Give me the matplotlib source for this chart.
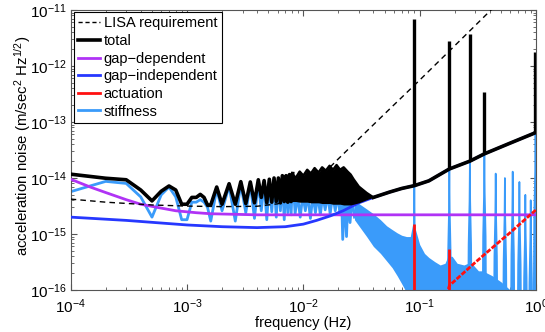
import matplotlib
matplotlib.use("Agg")
import matplotlib.pyplot as plt
from matplotlib.lines import Line2D
import numpy as np

plt.rcParams["font.family"] = ["Liberation Sans", "DejaVu Sans"]
plt.rcParams["mathtext.default"] = "regular"

# colours
C_TOTAL = "#000000"
C_GAPDEP = "#B033F5"
C_GAPIND = "#2638FF"
C_ACT = "#FF1010"
C_STIFF = "#3A9BFA"

# ---- LISA requirement (dashed)
lisa_f = [1e-4, 2e-4, 5e-4, 1e-3, 2e-3, 4e-3, 6e-3, 8e-3, 1e-2, 1.4e-2,
          2e-2, 3e-2, 5e-2, 0.1, 0.2, 0.4, 0.45]
lisa_v = [4.2e-15, 3.7e-15, 3.3e-15, 3.15e-15, 3.08e-15, 3.13e-15, 3.45e-15,
          4.3e-15, 5.8e-15, 1.05e-14, 2.2e-14, 5.0e-14, 1.4e-13, 5.6e-13,
          2.3e-12, 9.5e-12, 1.2e-11]

# ---- gap-dependent
gd_f = [1e-4, 1.5e-4, 2e-4, 3e-4, 4e-4, 6e-4, 8e-4, 1.2e-3, 1.6e-3, 2.5e-3,
        4e-3, 1.0]
gd_v = [9.5e-15, 6.8e-15, 5.5e-15, 4.1e-15, 3.4e-15, 2.9e-15, 2.6e-15,
        2.4e-15, 2.3e-15, 2.25e-15, 2.2e-15, 2.2e-15]

# ---- gap-independent
gi_f = [1e-4, 3e-4, 1e-3, 2e-3, 4e-3, 7e-3, 1e-2, 1.3e-2, 1.7e-2, 2.2e-2,
        3e-2, 4e-2, 5.5e-2, 7e-2, 9e-2, 0.12, 0.18, 0.27, 0.36, 0.6, 1.0]
gi_v = [2.0e-15, 1.75e-15, 1.45e-15, 1.35e-15, 1.3e-15, 1.35e-15, 1.5e-15,
        1.75e-15, 2.1e-15, 2.6e-15, 3.6e-15, 4.5e-15, 5.6e-15, 6.5e-15,
        7.3e-15, 8.9e-15, 1.45e-14, 2.0e-14, 2.7e-14, 4.2e-14, 6.5e-14]

# ---- total: low-frequency polyline
tot_f = [1e-4, 2e-4, 3e-4, 4e-4, 5e-4, 6e-4, 7e-4, 8e-4, 9e-4, 1e-3, 1.1e-3,
         1.2e-3, 1.3e-3, 1.4e-3, 1.5e-3, 1.6e-3, 1.8e-3, 2.0e-3, 2.3e-3,
         2.6e-3, 2.9e-3, 3.2e-3, 3.5e-3, 3.8e-3, 4.1e-3, 4.35e-3, 4.6e-3,
         4.85e-3, 5.1e-3, 5.35e-3, 5.6e-3, 5.85e-3, 6.1e-3, 6.35e-3, 6.6e-3,
         6.85e-3, 7.1e-3, 7.35e-3, 7.6e-3, 7.85e-3, 8.1e-3]
tot_v = [1.17e-14, 9.9e-15, 9.3e-15, 6.1e-15, 3.9e-15, 5.8e-15, 7.2e-15,
         6.1e-15, 3.4e-15, 3.4e-15, 4.5e-15, 4.5e-15, 5.1e-15, 4.5e-15,
         3.3e-15, 3.3e-15, 6.9e-15, 3.4e-15, 7.9e-15, 3.4e-15, 8.6e-15,
         3.5e-15, 8.5e-15, 3.6e-15, 9.3e-15, 4.5e-15, 9.0e-15, 3.6e-15,
         9.5e-15, 3.7e-15, 1.0e-14, 3.8e-15, 1.0e-14, 3.6e-15, 1.1e-14,
         3.8e-15, 1.1e-14, 3.7e-15, 1.15e-14, 3.8e-15, 1.2e-14]
# total: dense band (upper / lower envelope)
tb_f = [8e-3, 8.6e-3, 9.3e-3, 1e-2, 1.08e-2, 1.16e-2, 1.25e-2, 1.35e-2,
        1.45e-2, 1.56e-2, 1.68e-2, 1.8e-2, 1.93e-2, 2.07e-2, 2.22e-2, 2.4e-2,
        2.55e-2, 2.7e-2, 3.0e-2, 3.5e-2, 4.0e-2]
tb_top = [1.2e-14, 1.0e-14, 1.3e-14, 1.1e-14, 1.4e-14, 1.2e-14, 1.5e-14,
          1.25e-14, 1.55e-14, 1.35e-14, 1.65e-14, 1.4e-14, 1.7e-14, 1.4e-14,
          1.55e-14, 1.3e-14, 1.15e-14, 9.5e-15, 7.0e-15, 5.4e-15, 4.5e-15]
tb_bot = [3.8e-15, 3.8e-15, 3.7e-15, 3.7e-15, 3.7e-15, 3.6e-15, 3.6e-15,
          3.6e-15, 3.5e-15, 3.5e-15, 3.5e-15, 3.4e-15, 3.4e-15, 3.4e-15,
          3.3e-15, 3.3e-15, 3.3e-15, 3.4e-15, 3.6e-15, 4.1e-15, 4.5e-15]
# total: high-frequency
th_f = [4e-2, 5.5e-2, 7e-2, 9e-2, 0.12, 0.18, 0.27, 0.36, 0.6, 1.0]
th_v = [4.5e-15, 5.6e-15, 6.5e-15, 7.3e-15, 8.9e-15, 1.45e-14, 2.0e-14,
        2.7e-14, 4.2e-14, 6.5e-14]
# total: spikes
ts_f = [0.09, 0.18, 0.27, 0.36, 0.99]
ts_v = [6.8e-12, 2.8e-12, 3.8e-12, 3.5e-13, 1.8e-12]

# ---- actuation
act_f = [0.17, 0.18, 0.3, 0.45, 0.6, 0.8, 1.0]
act_v = [8e-17, 1.2e-16, 3.1e-16, 6.4e-16, 1.06e-15, 1.8e-15, 2.7e-15]
act_spk_f = [0.09, 0.18]
act_spk_v = [1.5e-15, 5.4e-16]

# ---- stiffness
st_f = [1e-4, 2e-4, 3e-4, 4e-4, 5e-4, 6e-4, 7e-4, 8e-4, 9e-4, 1e-3, 1.1e-3,
        1.2e-3, 1.3e-3, 1.4e-3, 1.5e-3, 1.6e-3, 1.8e-3, 2.0e-3, 2.3e-3,
        2.6e-3, 2.9e-3, 3.2e-3, 3.5e-3, 3.8e-3, 4.1e-3, 4.35e-3, 4.6e-3,
        4.85e-3, 5.1e-3, 5.35e-3, 5.6e-3, 5.85e-3, 6.1e-3, 6.35e-3, 6.6e-3,
        6.85e-3, 7.1e-3, 7.35e-3, 7.6e-3, 7.85e-3, 8.1e-3, 8.5e-3, 8.9e-3,
        9.4e-3, 9.9e-3, 1.04e-2, 1.09e-2, 1.15e-2, 1.21e-2, 1.27e-2, 1.33e-2,
        1.4e-2, 1.47e-2, 1.54e-2, 1.62e-2, 1.7e-2, 1.79e-2, 1.88e-2, 1.97e-2,
        2.07e-2, 2.13e-2, 2.18e-2, 2.28e-2, 2.35e-2, 2.42e-2, 2.52e-2,
        2.62e-2, 2.75e-2]
st_v = [5.7e-15, 8.7e-15, 8.0e-15, 4.6e-15, 2.0e-15, 5.0e-15, 6.9e-15,
        4.6e-15, 1.8e-15, 1.8e-15, 3.7e-15, 3.7e-15, 4.1e-15, 3.7e-15,
        3.0e-15, 1.7e-15, 6.3e-15, 2.6e-15, 7.2e-15, 1.7e-15, 7.8e-15,
        2.4e-15, 7.8e-15, 1.9e-15, 8.5e-15, 2.6e-15, 8.2e-15, 1.8e-15,
        8.7e-15, 2.5e-15, 9.2e-15, 2.0e-15, 9.2e-15, 2.6e-15, 1.0e-14,
        1.8e-15, 1.0e-14, 2.4e-15, 1.05e-14, 2.2e-15, 1.1e-14, 2.3e-15,
        5e-15, 2.0e-15, 5e-15, 2.6e-15, 5e-15, 1.9e-15, 5e-15, 2.4e-15,
        5e-15, 2.2e-15, 5e-15, 2.7e-15, 5e-15, 2.3e-15, 5e-15, 2.6e-15,
        5e-15, 2.2e-15, 5e-15, 8e-16, 5e-15, 9e-16, 5e-15, 1.6e-15, 4.5e-15,
        2.0e-15]
# stiffness: noisy band
sb_f = [0.0275, 0.03, 0.035, 0.04, 0.046, 0.052, 0.058, 0.064, 0.07, 0.077,
        0.083, 0.087]
sb_top = [3.5e-15, 3.5e-15, 2.8e-15, 2.3e-15, 1.8e-15, 1.4e-15, 1.2e-15,
          1.05e-15, 9.5e-16, 9e-16, 9e-16, 1.5e-15]
sb_bot = [1.8e-15, 1.4e-15, 9e-16, 6e-16, 4.5e-16, 3.3e-16, 2.5e-16,
          1.8e-16, 1.3e-16, 9e-17, 6e-17, 5e-17]
# stiffness: floor above 0.09 Hz
sf_f = [0.092, 0.1, 0.11, 0.12, 0.135, 0.15, 0.165, 0.175, 0.19, 0.21, 0.24,
        0.26, 0.28, 0.32, 0.35, 0.38, 0.42, 0.5, 0.6]
sf_top = [1.2e-15, 6.5e-16, 4.5e-16, 3.8e-16, 3.2e-16, 2.8e-16, 3e-16,
          4e-16, 4e-16, 3e-16, 2.8e-16, 3e-16, 3e-16, 2.2e-16, 2.2e-16,
          2e-16, 1.8e-16, 1.4e-16, 1.0e-16]
# stiffness: resonance peaks
sp_f = [0.09, 0.18, 0.27, 0.36, 0.45, 0.54, 0.63, 0.72, 0.81, 0.90, 0.99]
sp_v = [7.2e-15, 1.4e-14, 1.9e-14, 2.7e-14, 1.2e-14, 1.0e-14, 1.3e-14,
        8.5e-15, 5e-15, 4e-15, 6.5e-14]

YMIN, YMAX = 1e-16, 1e-11
LOW = 1e-18

fig = plt.figure(figsize=(5.45, 3.32), dpi=100)
ax = fig.add_axes([0.1297, 0.1265, 0.8538, 0.8434])
ax.set_xscale("log")
ax.set_yscale("log")

# stiffness (bottom layer)
ax.plot(st_f, st_v, color=C_STIFF, lw=2.0, zorder=2)
ax.fill_between(sb_f, sb_bot, sb_top, color=C_STIFF, lw=0, zorder=2)
ax.fill_between(sf_f, LOW, sf_top, color=C_STIFF, lw=0, zorder=2)
for f0, h in zip(sp_f, sp_v):
    px = [f0 * 0.955, f0 * 0.975, f0 * 0.993, f0, f0 / 0.993, f0 / 0.975,
          f0 / 0.955]
    py = [LOW, h / 30, h / 5, h, h / 5, h / 30, LOW]
    ax.fill(px, py, color=C_STIFF, lw=0, zorder=2)
    ax.plot(px, py, color=C_STIFF, lw=1.2, zorder=2)

# gap-dependent / gap-independent
ax.plot(gd_f, gd_v, color=C_GAPDEP, lw=2.0, zorder=3)
ax.plot(gi_f, gi_v, color=C_GAPIND, lw=2.0, zorder=3)

# actuation
ax.plot(act_f, act_v, color=C_ACT, lw=2.0, ls=(0, (1.8, 0.6)), zorder=4)
ax.vlines(act_spk_f, LOW, act_spk_v, color=C_ACT, lw=2.0, zorder=4)

# LISA requirement
ax.plot(lisa_f, lisa_v, color="k", lw=1.0, ls=(0, (4, 3)), zorder=5)

# total
ax.plot(tot_f, tot_v, color=C_TOTAL, lw=2.6, zorder=6)
ax.fill_between(tb_f, tb_bot, tb_top, color=C_TOTAL, lw=0, zorder=6)
ax.plot(tb_f, tb_top, color=C_TOTAL, lw=1.8, zorder=6)
ax.plot(th_f, th_v, color=C_TOTAL, lw=2.6, zorder=6)
base = 10 ** np.interp(np.log10(ts_f), np.log10(th_f), np.log10(th_v))
ax.vlines(ts_f, base, ts_v, color=C_TOTAL, lw=2.4, zorder=6)

ax.set_xlim(1e-4, 1)
ax.set_ylim(YMIN, YMAX)

for s in ax.spines.values():
    s.set_color("#555555")
    s.set_linewidth(0.8)
ax.tick_params(which="both", direction="in", top=True, right=True,
               color="#555555", labelsize=11)
ax.tick_params(which="major", length=4)
ax.tick_params(which="minor", length=2)
ax.tick_params(axis="x", pad=5)
ax.tick_params(axis="y", pad=3)

ax.set_xlabel("frequency (Hz)", fontsize=10.5)
ax.xaxis.set_label_coords(0.5, -0.093)
ax.set_ylabel("acceleration noise (m/sec$^2$ Hz$^{1/2}$)", fontsize=10.8)
ax.yaxis.set_label_coords(-0.081, 0.515)

handles = [
    Line2D([], [], color="k", lw=1.0, ls=(0, (3, 2))),
    Line2D([], [], color=C_TOTAL, lw=2.6),
    Line2D([], [], color=C_GAPDEP, lw=2.0),
    Line2D([], [], color=C_GAPIND, lw=2.0),
    Line2D([], [], color=C_ACT, lw=2.0),
    Line2D([], [], color=C_STIFF, lw=2.0),
]
labels = ["LISA requirement", "total", "gap\u2212dependent",
          "gap\u2212independent", "actuation", "stiffness"]
leg = ax.legend(handles, labels, loc="upper left",
                bbox_to_anchor=(0.007, 0.993), borderaxespad=0,
                fontsize=10.5, frameon=True, fancybox=False,
                edgecolor="k", framealpha=1, labelspacing=0.25,
                handlelength=1.5, handletextpad=0.25, borderpad=0.3)
leg.get_frame().set_linewidth(0.8)
leg.set_zorder(10)

fig.savefig("out.png", dpi=100)
